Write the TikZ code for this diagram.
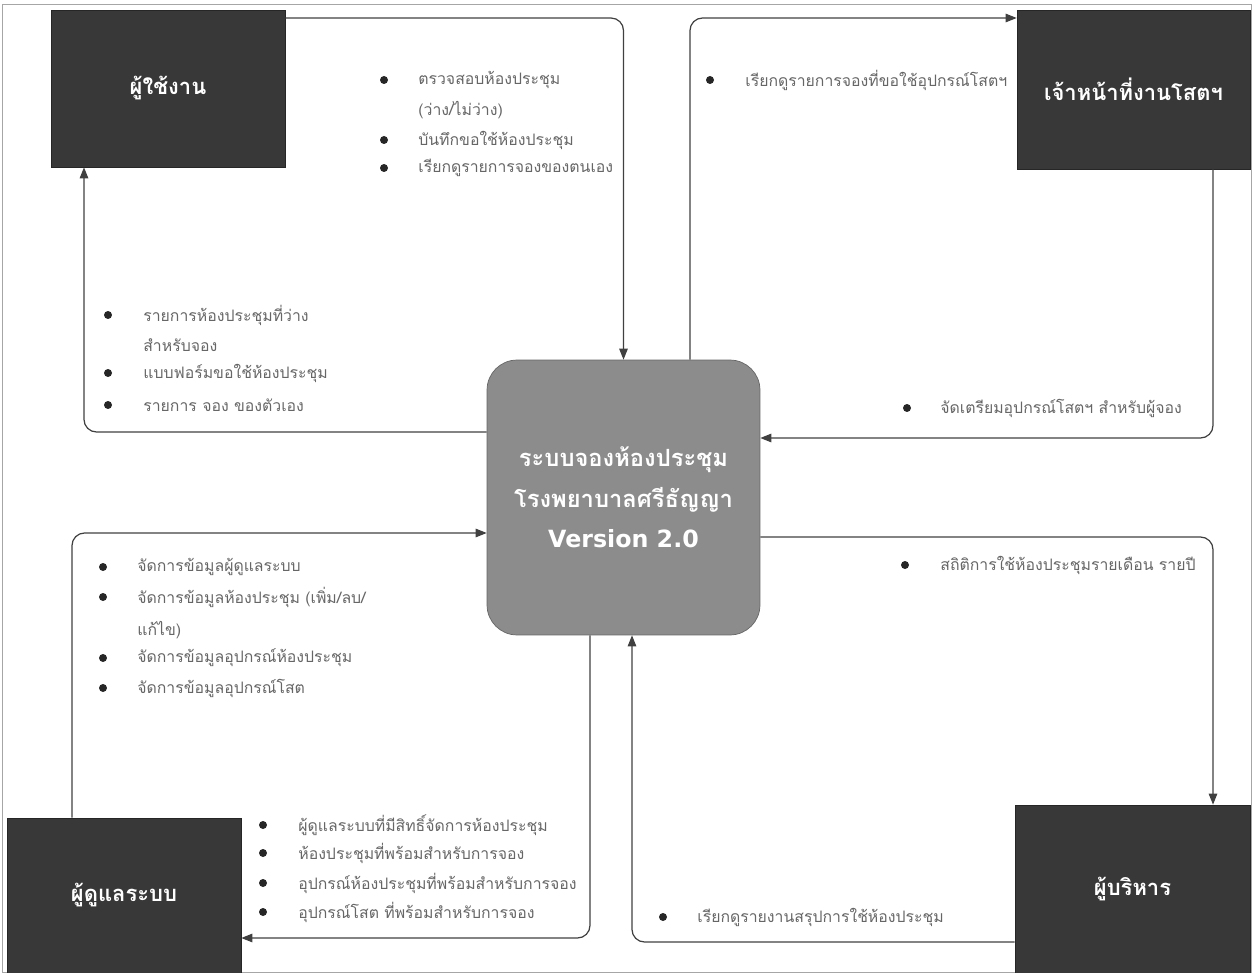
\documentclass[tikz,border=0pt]{standalone}
\usepackage{fontspec}
\newfontfamily\thaifont[Script=Thai]{Loma}
\newfontfamily\latinfont{DejaVu Sans}
\usetikzlibrary{arrows.meta}
\tikzset{
  actor/.style={draw=black!85, fill=black!78, text=white, minimum width=4.68cm, minimum height=3.14cm,
    font=\thaifont\bfseries\fontsize{12.5}{14}\selectfont},
  sysbox/.style={draw=black!60, fill=black!45, rounded corners=0.6cm, text=white, align=center,
    minimum width=5.46cm, minimum height=5.5cm, font=\thaifont\bfseries\fontsize{13.5}{23}\selectfont},
  flow/.style={draw=black!75, line width=0.7pt, rounded corners=0.25cm, -{Triangle[length=0.22cm,width=0.17cm]}},
  dot/.style={circle, fill=black!85, inner sep=0pt, minimum size=0.16cm},
  item/.style={anchor=west, inner sep=0pt, text=black!60, font=\thaifont\fontsize{9}{10}\selectfont}
}
\begin{document}
\begin{tikzpicture}[x=0.02cm, y=-0.02cm]
  \useasboundingbox (0,0) rectangle (1255,973);
  \draw[black!35, line width=0.4pt] (2,4) rectangle (1251,972);

  \node[actor] (user)  at (168,88.5)   {ผู้ใช้งาน};
  \node[actor, minimum width=4.66cm, minimum height=3.18cm] (sot) at (1133.5,89.5) {เจ้าหน้าที่งานโสตฯ};
  \node[actor, minimum width=4.7cm, minimum height=3.36cm] (boss) at (1132.5,889) {ผู้บริหาร};
  \node[actor, minimum height=3.1cm] (admin) at (124,895.5) {ผู้ดูแลระบบ};
  \node[sysbox] (sys) at (623.5,497.5) {ระบบจองห้องประชุม\\โรงพยาบาลศรีธัญญา\\{\latinfont\bfseries Version 2.0}};

  % data flows
  \draw[flow] (user.east |- 0,18) -| (sys.north);
  \draw[flow] (sys.north -| 690,0) |- (sot.west |- 0,18);
  \draw[flow] (sot.south -| 1213,0) |- (sys.east |- 0,438);
  \draw[flow] (sys.east |- 0,537) -| (boss.north -| 1213,0);
  \draw[flow] (boss.west |- 0,942) -| (sys.south -| 632,0);
  \draw[flow] (sys.south -| 590,0) |- (admin.east |- 0,938);
  \draw[flow] (admin.north -| 72,0) |- (sys.west |- 0,533);
  \draw[flow] (sys.west |- 0,432) -| (user.south -| 84,0);

  % user -> system
  \foreach \y in {80,140,168} \node[dot] (ad\y) at (384,\y) {};
  \foreach \y/\t in {80/ตรวจสอบห้องประชุม, 110/{(ว่าง/ไม่ว่าง)}, 140/บันทึกขอใช้ห้องประชุม, 168/เรียกดูรายการจองของตนเอง}
    \node[item] (a\y) at (418,\y) {\t};
  % system -> sot
  \node[dot] (bd) at (710,80) {};
  \node[item] (b) at (745,80) {เรียกดูรายการจองที่ขอใช้อุปกรณ์โสตฯ};
  % system -> user
  \foreach \y in {315,373,405} \node[dot] (cd\y) at (108,\y) {};
  \foreach \y/\t in {315/รายการห้องประชุมที่ว่าง, 345/สำหรับจอง, 373/แบบฟอร์มขอใช้ห้องประชุม, 405/รายการ จอง ของตัวเอง}
    \node[item] (c\y) at (143,\y) {\t};
  % sot -> system
  \node[dot] (dd) at (907,408) {};
  \node[item] (d) at (940,408) {จัดเตรียมอุปกรณ์โสตฯ สำหรับผู้จอง};
  % system -> boss
  \node[dot] (ed) at (905,565) {};
  \node[item] (e) at (940,565) {สถิติการใช้ห้องประชุมรายเดือน รายปี};
  % boss -> system
  \node[dot] (fd) at (663,917) {};
  \node[item] (f) at (697,917) {เรียกดูรายงานสรุปการใช้ห้องประชุม};
  % system -> admin
  \foreach \y/\t in {825/ผู้ดูแลระบบที่มีสิทธิ์จัดการห้องประชุม, 853/ห้องประชุมที่พร้อมสำหรับการจอง, 883/อุปกรณ์ห้องประชุมที่พร้อมสำหรับการจอง, 912/อุปกรณ์โสต ที่พร้อมสำหรับการจอง}
  {
    \node[dot] (gd\y) at (263,\y) {};
    \node[item] (g\y) at (298,\y) {\t};
  }
  % admin -> system
  \foreach \y in {567,597,658,688} \node[dot] (hd\y) at (103,\y) {};
  \foreach \y/\t in {567/จัดการข้อมูลผู้ดูแลระบบ, 597/{จัดการข้อมูลห้องประชุม (เพิ่ม/ลบ/}, 630/{แก้ไข)}, 658/จัดการข้อมูลอุปกรณ์ห้องประชุม, 688/จัดการข้อมูลอุปกรณ์โสต}
    \node[item] (h\y) at (137,\y) {\t};
\end{tikzpicture}
\end{document}
